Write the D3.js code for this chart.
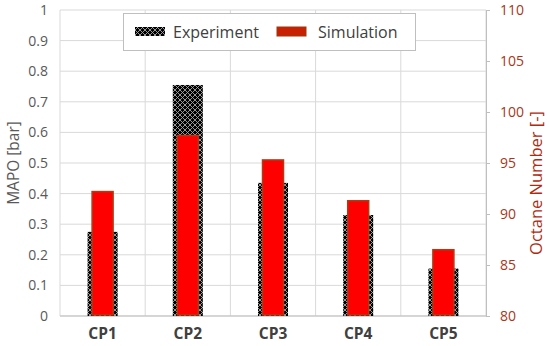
<!DOCTYPE html>
<html>
<head>
<meta charset="utf-8">
<script src="https://cdn.jsdelivr.net/npm/d3@7"></script>
<style>
  body { margin: 0; background: #fff; }
  svg text { font-family: "Open Sans", "Noto Sans", sans-serif; }
</style>
</head>
<body>
<div id="chart"></div>
<script>
// data
var categories = ['CP1', 'CP2', 'CP3', 'CP4', 'CP5'];
var experiment = [0.275, 0.755, 0.435, 0.33, 0.155];   // MAPO [bar], left axis
var simulation = [92.2, 97.7, 95.3, 91.3, 86.5];       // octane number, right axis
var leftTicks = [0, 0.1, 0.2, 0.3, 0.4, 0.5, 0.6, 0.7, 0.8, 0.9, 1];
var rightTicks = [80, 85, 90, 95, 100, 105, 110];

var W = 550, H = 346;
var m = { left: 60, right: 64, top: 10, bottom: 30 };

var svg = d3.select('#chart').append('svg')
    .attr('width', W).attr('height', H);

var x = d3.scaleBand().domain(categories)
    .range([m.left, W - m.right]);
var yL = d3.scaleLinear().domain([0, 1]).range([H - m.bottom, m.top]);
var yR = d3.scaleLinear().domain([80, 110]).range([H - m.bottom, m.top]);

// crosshatch pattern for experiment bars
var defs = svg.append('defs');
var pat = defs.append('pattern').attr('id', 'hatch')
    .attr('patternUnits', 'userSpaceOnUse')
    .attr('width', 5).attr('height', 5);
pat.append('rect').attr('width', 5).attr('height', 5).attr('fill', '#000');
pat.append('path').attr('d', 'M0,0 L5,5 M5,0 L0,5')
    .attr('stroke', '#a6a6a6').attr('stroke-width', 0.9);

// horizontal grid
svg.append('g').selectAll('line').data(leftTicks).join('line')
    .attr('x1', m.left).attr('x2', W - m.right)
    .attr('y1', d => yL(d)).attr('y2', d => yL(d))
    .attr('stroke', '#d9d9d9').attr('stroke-width', 1);

// vertical grid (category boundaries)
var bounds = categories.map(c => x(c)).concat([W - m.right]);
svg.append('g').selectAll('line').data(bounds).join('line')
    .attr('x1', d => d).attr('x2', d => d)
    .attr('y1', m.top).attr('y2', H - m.bottom)
    .attr('stroke', '#d9d9d9').attr('stroke-width', 1);

// bottom axis line
svg.append('line')
    .attr('x1', m.left).attr('x2', W - m.right)
    .attr('y1', H - m.bottom).attr('y2', H - m.bottom)
    .attr('stroke', '#bfbfbf');

// right axis
var axR = d3.axisRight(yR).tickValues(rightTicks).tickSize(4).tickPadding(10);
var gR = svg.append('g')
    .attr('transform', `translate(${W - m.right},0)`)
    .call(ax => ax.call(axR));
gR.select('.domain').attr('stroke', '#bfbfbf');
gR.selectAll('.tick line').attr('stroke', '#bfbfbf');
gR.selectAll('.tick text').attr('fill', '#a8361a').attr('font-size', 14);

// left axis labels
var axL = d3.axisLeft(yL).tickValues(leftTicks).tickSize(0).tickPadding(12)
    .tickFormat(d3.format('~g'));
var gL = svg.append('g').attr('transform', `translate(${m.left},0)`).call(axL);
gL.select('.domain').remove();
gL.selectAll('.tick text').attr('fill', '#595959').attr('font-size', 14);

// category labels
var axB = d3.axisBottom(x).tickSize(0).tickPadding(12);
var gB = svg.append('g').attr('transform', `translate(0,${H - m.bottom})`).call(axB);
gB.select('.domain').remove();
gB.selectAll('.tick text').attr('fill', '#404040').attr('font-size', 15.5)
    .attr('font-weight', 'bold');

// experiment bars
var bwE = 30, bwS = 21;
svg.append('g').selectAll('rect').data(experiment).join('rect')
    .attr('x', (d, i) => x(categories[i]) + x.bandwidth() / 2 - bwE / 2)
    .attr('width', bwE)
    .attr('y', d => yL(d))
    .attr('height', d => yL(0) - yL(d))
    .attr('fill', 'url(#hatch)');

// simulation bars
svg.append('g').selectAll('rect').data(simulation).join('rect')
    .attr('x', (d, i) => x(categories[i]) + x.bandwidth() / 2 - bwS / 2)
    .attr('width', bwS)
    .attr('y', d => yR(d))
    .attr('height', d => yR(80) - yR(d) - 1)
    .attr('fill', '#ff0000')
    .attr('stroke', '#b03a14').attr('stroke-width', 1.5);

// axis titles
svg.append('text')
    .attr('transform', `translate(19,${(m.top + H - m.bottom) / 2}) rotate(-90)`)
    .attr('text-anchor', 'middle')
    .attr('fill', '#595959').attr('font-size', 15.5)
    .text('MAPO [bar]');
svg.append('text')
    .attr('transform', `translate(542,${(m.top + H - m.bottom) / 2 + 20}) rotate(-90)`)
    .attr('text-anchor', 'middle')
    .attr('fill', '#b02a10').attr('font-size', 16.5)
    .text('Octane Number [-]');

// legend
var lg = svg.append('g');
lg.append('rect').attr('x', 123.5).attr('y', 13.5).attr('width', 292).attr('height', 37)
    .attr('fill', '#fff').attr('stroke', '#bfbfbf');
lg.append('rect').attr('x', 135).attr('y', 27).attr('width', 30).attr('height', 9)
    .attr('fill', 'url(#hatch)');
lg.append('text').attr('x', 173).attr('y', 37.5).attr('font-size', 16)
    .attr('fill', '#404040').text('Experiment');
lg.append('rect').attr('x', 277).attr('y', 27).attr('width', 29).attr('height', 9)
    .attr('fill', '#c82000').attr('stroke', '#9a3a10');
lg.append('text').attr('x', 318).attr('y', 37.5).attr('font-size', 16)
    .attr('fill', '#404040').text('Simulation');
</script>
</body>
</html>
